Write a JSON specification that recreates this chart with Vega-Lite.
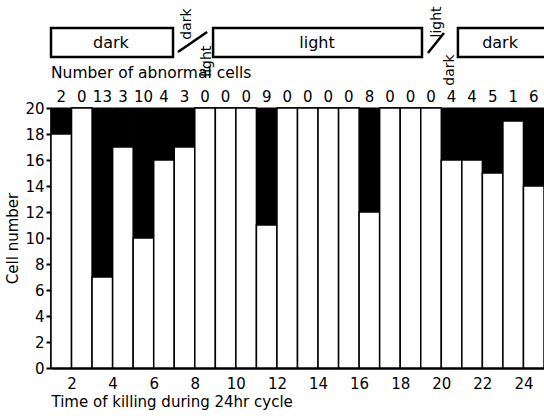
{
  "$schema": "https://vega.github.io/schema/vega-lite/v6.json",
  "autosize": "none",
  "padding": {"left": 51, "top": 108, "right": 0, "bottom": 48},
  "width": 493,
  "height": 260,
  "background": "white",
  "config": {"view": {"stroke": null}, "font": "DejaVu Sans", "axis": {"labelOverlap": false}},
  "resolve": {"axis": {"y": "independent"}},
  "datasets": {
    "cells": [
      {"start": 1, "end": 2, "normal": 18, "abnormal": 2},
      {"start": 2, "end": 3, "normal": 20, "abnormal": 0},
      {"start": 3, "end": 4, "normal": 7, "abnormal": 13},
      {"start": 4, "end": 5, "normal": 17, "abnormal": 3},
      {"start": 5, "end": 6, "normal": 10, "abnormal": 10},
      {"start": 6, "end": 7, "normal": 16, "abnormal": 4},
      {"start": 7, "end": 8, "normal": 17, "abnormal": 3},
      {"start": 8, "end": 9, "normal": 20, "abnormal": 0},
      {"start": 9, "end": 10, "normal": 20, "abnormal": 0},
      {"start": 10, "end": 11, "normal": 20, "abnormal": 0},
      {"start": 11, "end": 12, "normal": 11, "abnormal": 9},
      {"start": 12, "end": 13, "normal": 20, "abnormal": 0},
      {"start": 13, "end": 14, "normal": 20, "abnormal": 0},
      {"start": 14, "end": 15, "normal": 20, "abnormal": 0},
      {"start": 15, "end": 16, "normal": 20, "abnormal": 0},
      {"start": 16, "end": 17, "normal": 12, "abnormal": 8},
      {"start": 17, "end": 18, "normal": 20, "abnormal": 0},
      {"start": 18, "end": 19, "normal": 20, "abnormal": 0},
      {"start": 19, "end": 20, "normal": 20, "abnormal": 0},
      {"start": 20, "end": 21, "normal": 16, "abnormal": 4},
      {"start": 21, "end": 22, "normal": 16, "abnormal": 4},
      {"start": 22, "end": 23, "normal": 15, "abnormal": 5},
      {"start": 23, "end": 24, "normal": 19, "abnormal": 1},
      {"start": 24, "end": 25, "normal": 14, "abnormal": 6}
    ],
    "periods": [
      {"phase": "dark", "from": 1.0, "to": 6.94, "labelAt": 3.92},
      {"phase": "light", "from": 8.89, "to": 19.06, "labelAt": 13.95},
      {"phase": "dark", "from": 20.81, "to": 27, "labelAt": 22.86}
    ],
    "one": [{}]
  },
  "layer": [
    {
      "data": {"name": "cells"},
      "mark": {"type": "rect", "fill": "black", "stroke": "black", "strokeWidth": 1},
      "encoding": {
        "x": {"field": "start", "type": "quantitative",
          "scale": {"domain": [1, 25], "nice": false, "zero": false},
          "axis": {
            "values": [2, 4, 6, 8, 10, 12, 14, 16, 18, 20, 22, 24],
            "ticks": false, "tickSize": 0, "grid": false, "labelOverlap": false,
            "domainColor": "black", "domainWidth": 2.5,
            "labelFontSize": 15, "labelColor": "black", "labelPadding": 8,
            "title": "Time of killing during 24hr cycle",
            "titleFontSize": 15, "titleFontWeight": "normal", "titleColor": "black",
            "titleAnchor": "start", "titleAlign": "left", "titlePadding": 3
          }},
        "x2": {"field": "end"},
        "y": {"field": "normal", "type": "quantitative",
          "scale": {"domain": [0, 20], "nice": false},
          "axis": {
            "values": [0, 2, 4, 6, 8, 10, 12, 14, 16, 18, 20],
            "labelOverlap": false, "labelBound": false,
            "grid": false, "tickSize": 5, "tickWidth": 2, "tickColor": "black",
            "domainColor": "black", "domainWidth": 2.5,
            "labelFontSize": 15, "labelColor": "black", "labelPadding": 2,
            "title": "Cell number", "titleFontSize": 15, "titleFontWeight": "normal",
            "titleColor": "black", "titlePadding": 4
          }},
        "y2": {"datum": 20}
      }
    },
    {
      "data": {"name": "cells"},
      "mark": {"type": "rect", "fill": "white", "stroke": "black", "strokeWidth": 1.5},
      "encoding": {
        "x": {"field": "start", "type": "quantitative"},
        "x2": {"field": "end"},
        "y": {"field": "normal", "type": "quantitative",
          "axis": {
            "values": [1, 3, 5, 7, 9, 11, 13, 15, 17, 19],
            "labels": false, "domain": false, "grid": false, "title": null,
            "tickSize": 5, "tickWidth": 2, "tickColor": "black"
          }},
        "y2": {"datum": 0}
      }
    },
    {
      "data": {"name": "cells"},
      "mark": {"type": "text", "fontSize": 15, "color": "black", "align": "center", "baseline": "middle", "dx": 10.3},
      "encoding": {
        "x": {"field": "start", "type": "quantitative"},
        "y": {"datum": 20.85, "axis": null},
        "text": {"field": "abnormal", "type": "quantitative"}
      }
    },
    {
      "data": {"values": [{"label": "Number of abnormal cells", "at": 1}]},
      "mark": {"type": "text", "fontSize": 15.5, "color": "black", "align": "left", "baseline": "middle"},
      "encoding": {
        "x": {"field": "at", "type": "quantitative"},
        "y": {"datum": 22.69, "axis": null},
        "text": {"field": "label"}
      }
    },
    {
      "data": {"name": "periods"},
      "mark": {"type": "rect", "fill": "white", "stroke": "black", "strokeWidth": 2.5},
      "encoding": {
        "x": {"field": "from", "type": "quantitative"},
        "x2": {"field": "to"},
        "y": {"datum": 23.92, "axis": null},
        "y2": {"datum": 26.15}
      }
    },
    {
      "data": {"name": "periods"},
      "mark": {"type": "text", "fontSize": 16, "color": "black", "align": "center", "baseline": "middle"},
      "encoding": {
        "x": {"field": "labelAt", "type": "quantitative"},
        "y": {"datum": 25.03, "axis": null},
        "text": {"field": "phase"}
      }
    },
    {
      "data": {"name": "one"},
      "mark": {"type": "rule", "stroke": "black", "strokeWidth": 2.5},
      "encoding": {
        "x": {"datum": 7.18}, "x2": {"datum": 8.6},
        "y": {"datum": 24.31, "axis": null}, "y2": {"datum": 25.85}
      }
    },
    {
      "data": {"name": "one"},
      "mark": {"type": "rule", "stroke": "black", "strokeWidth": 2.5},
      "encoding": {
        "x": {"datum": 19.35}, "x2": {"datum": 20.13},
        "y": {"datum": 24.23, "axis": null}, "y2": {"datum": 25.77}
      }
    },
    {
      "data": {"name": "one"},
      "mark": {"type": "text", "text": "dark", "fontSize": 14, "color": "black", "angle": 270, "align": "center", "baseline": "middle"},
      "encoding": {"x": {"datum": 7.62}, "y": {"datum": 26.46, "axis": null}}
    },
    {
      "data": {"name": "one"},
      "mark": {"type": "text", "text": "light", "fontSize": 14, "color": "black", "angle": 270, "align": "center", "baseline": "middle"},
      "encoding": {"x": {"datum": 8.59}, "y": {"datum": 23.6, "axis": null}}
    },
    {
      "data": {"name": "one"},
      "mark": {"type": "text", "text": "light", "fontSize": 14, "color": "black", "angle": 270, "align": "center", "baseline": "middle"},
      "encoding": {"x": {"datum": 19.79}, "y": {"datum": 26.62, "axis": null}}
    },
    {
      "data": {"name": "one"},
      "mark": {"type": "text", "text": "dark", "fontSize": 14, "color": "black", "angle": 270, "align": "center", "baseline": "middle"},
      "encoding": {"x": {"datum": 20.42}, "y": {"datum": 22.92, "axis": null}}
    }
  ]
}
